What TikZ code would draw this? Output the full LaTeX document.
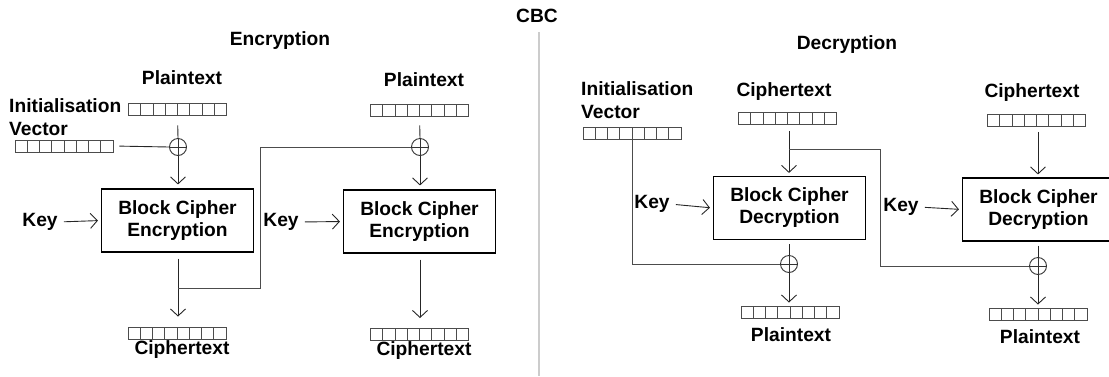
\documentclass[tikz,border=0pt]{standalone}
\usepackage{fontspec}
\setmainfont{Liberation Sans}
\usetikzlibrary{arrows.meta,calc}
\tikzset{
  lbl/.style={font=\bfseries\fontsize{19.2}{23}\selectfont, inner sep=0pt},
  register/.style={draw=black!70, line width=0.9pt, minimum width=98pt, minimum height=12pt, inner sep=0pt,
    path picture={\foreach \i in {1,...,7}{\draw[black!70,line width=0.9pt]
      ($(path picture bounding box.south west)!\i/8!(path picture bounding box.south east)$) --
      ($(path picture bounding box.north west)!\i/8!(path picture bounding box.north east)$);}}},
  xorop/.style={circle, draw=black!80, line width=0.9pt, minimum size=17pt, inner sep=0pt,
    path picture={\draw[black!80,line width=0.9pt] (path picture bounding box.north) -- (path picture bounding box.south);
      \draw[black!80,line width=0.9pt] (path picture bounding box.west) -- (path picture bounding box.east);}},
  cipherbox/.style={draw, line width=1.1pt, align=center, minimum width=152pt, minimum height=63pt, inner sep=0pt,
    font=\bfseries\fontsize{19.2}{22}\selectfont},
  wire/.style={draw=black!85, line width=0.9pt},
  feed/.style={draw=black!70, line width=1pt},
  tip/.style={-{Straight Barb[length=7pt,width=15pt]}},
  divider/.style={draw=black!20, line width=1.5pt}
}
\begin{document}
\begin{tikzpicture}[x=1pt,y=-1pt]
\useasboundingbox (0,0) rectangle (1109,376);

% titles and divider
\node[lbl] (cbc) at (537,16) {CBC};
\node[lbl] (enctitle) at (280,41) {Encryption};
\node[lbl] (dectitle) at (847,45) {Decryption};
\coordinate (divtop) at (539,32);
\coordinate (divbot) at (539,376);
\draw[divider] (divtop) -- (divbot);

% ---------------- encryption, first block ----------------
\node[lbl] (pt1) at (182,78) {Plaintext};
\node[register] (pt1reg) at (177.5,109) {};
\node[lbl, align=left, anchor=west] (iv1) at (9,117) {Initialisation\\Vector};
\node[register] (iv1reg) at (64,146) {};
\node[xorop] (xor1) at (178,147) {};
\node[cipherbox] (blk1) at (177.5,220.5) {Block Cipher\\Encryption};
\node[lbl] (key1) at (40,222) {Key};
\node[register] (ct1reg) at (177,333) {};
\node[lbl] (ct1) at (182,350) {Ciphertext};

\draw[wire, shorten <=10pt] (pt1reg.south) -- (xor1.north);
\draw[wire, shorten <=6pt] (iv1reg.east) -- (xor1.west);
\draw[wire, tip, shorten >=4pt] (xor1.south) -- (xor1.south |- blk1.north);
\draw[wire, tip, shorten <=6pt, shorten >=3pt] (key1.east) -- (blk1.west);
\draw[wire, tip, shorten <=6pt, shorten >=10pt] (blk1.south -| xor1) -- (ct1reg.north -| xor1);

% ---------------- encryption, second block ----------------
\node[lbl] (pt2) at (424,80) {Plaintext};
\node[register] (pt2reg) at (419.5,110) {};
\node[xorop] (xor2) at (420,147) {};
\node[cipherbox] (blk2) at (419.5,221.5) {Block Cipher\\Encryption};
\node[lbl] (key2) at (281,222) {Key};
\node[register] (ct2reg) at (419.5,334.5) {};
\node[lbl] (ct2) at (424,351) {Ciphertext};

\draw[wire, shorten <=9pt] (pt2reg.south) -- (xor2.north);
\draw[wire, tip, shorten >=4pt] (xor2.south) -- (xor2.south |- blk2.north);
\draw[wire, tip, shorten <=6pt, shorten >=3pt] (key2.east) -- (blk2.west);
\draw[wire, tip, shorten <=6pt, shorten >=10pt] (blk2.south -| xor2) -- (ct2reg.north -| xor2);

% chaining: first ciphertext feeds the second XOR
\coordinate (j1) at (178,288);
\coordinate (fbx1) at (260,288);
\draw[feed] (j1) -- (fbx1) |- (xor2.west);

% ---------------- decryption, first block ----------------
\node[lbl, align=left, anchor=west] (iv2) at (581,100) {Initialisation\\Vector};
\node[register] (iv2reg) at (632,133) {};
\node[lbl] (ct3) at (784,92) {Ciphertext};
\node[register] (ct3reg) at (787.5,118.5) {};
\node[cipherbox] (blk3) at (789.5,208) {Block Cipher\\Decryption};
\node[lbl] (key3) at (652,204) {Key};
\node[xorop] (xor3) at (789,264) {};
\node[register] (pt3reg) at (790,312) {};
\node[lbl] (pt3) at (791,335) {Plaintext};

\draw[wire, tip, shorten <=6pt, shorten >=3pt] (ct3reg.south -| xor3) -- (blk3.north -| xor3);
\draw[wire, tip, shorten <=6pt, shorten >=3pt] (key3.east) -- (blk3.west);
\draw[wire, shorten <=4pt] (blk3.south -| xor3) -- (xor3.north);
\draw[wire, tip, shorten >=3pt] (xor3.south) -- (pt3reg.north -| xor3);
\draw[feed] (iv2reg.south) |- (xor3.west);

% ---------------- decryption, second block ----------------
\node[lbl] (ct4) at (1032,93) {Ciphertext};
\node[register] (ct4reg) at (1036.5,120.5) {};
\node[cipherbox] (blk4) at (1038.5,209.5) {Block Cipher\\Decryption};
\node[lbl] (key4) at (901,207) {Key};
\node[xorop] (xor4) at (1038,266) {};
\node[register] (pt4reg) at (1038,314) {};
\node[lbl] (pt4) at (1040,337) {Plaintext};

\draw[wire, tip, shorten <=5pt, shorten >=3pt] (ct4reg.south -| xor4) -- (blk4.north -| xor4);
\draw[wire, tip, shorten <=6pt, shorten >=3pt] (key4.east) -- (blk4.west);
\draw[wire, shorten <=4pt] (blk4.south -| xor4) -- (xor4.north);
\draw[wire, tip, shorten >=3pt] (xor4.south) -- (pt4reg.north -| xor4);

% chaining: first ciphertext feeds the second XOR
\coordinate (j3) at (789,149);
\coordinate (fbx2) at (880,149);
\draw[feed] (j3) -- (fbx2) |- (xor4.west);
\end{tikzpicture}
\end{document}
